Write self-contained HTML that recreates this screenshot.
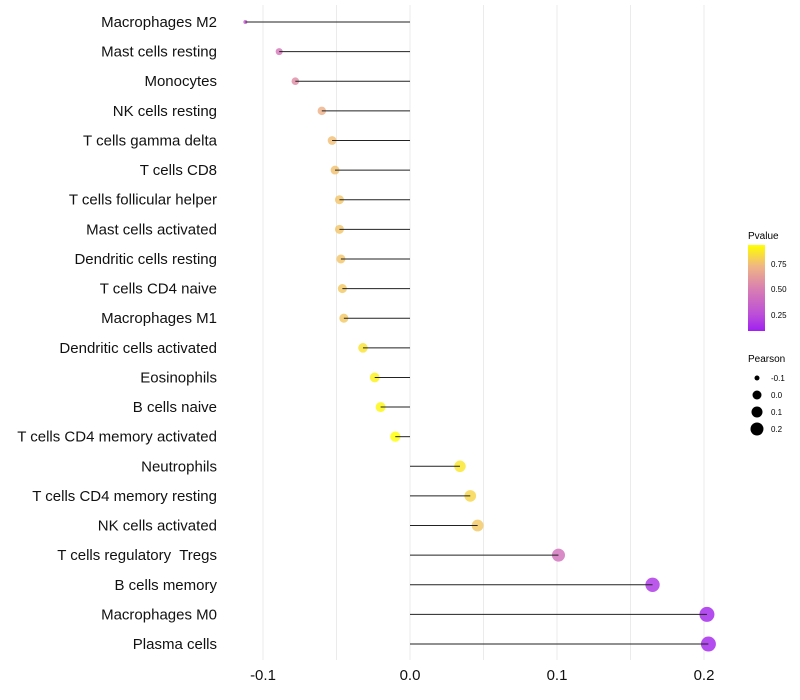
<!DOCTYPE html>
<html><head><meta charset="utf-8"><style>
body{margin:0;background:#fff}
svg{display:block;font-family:"Liberation Sans",sans-serif}
#ylabels text{white-space:pre}
</style></head><body>
<svg id="chart" width="800" height="700">
<defs><linearGradient id="pg" x1="0" y1="1" x2="0" y2="0">
<stop offset="0" stop-color="#a020f0"/><stop offset="0.2" stop-color="#bd50d8"/><stop offset="0.5" stop-color="#da80b0"/><stop offset="0.75" stop-color="#efb585"/><stop offset="1" stop-color="#ffff00"/>
</linearGradient></defs>
<g id="grid"></g><g id="marks"></g><g id="ylabels"></g><g id="xlabels"></g>
<g>
<text x="748" y="239" font-size="10">Pvalue</text>
<rect x="748" y="245" width="17" height="86" fill="url(#pg)"/>
<text x="771" y="267" font-size="8">0.75</text>
<text x="771" y="292" font-size="8">0.50</text>
<text x="771" y="318" font-size="8">0.25</text>
</g>
<g>
<text x="748" y="362" font-size="10">Pearson</text>
<circle cx="757" cy="378" r="2.5"/><text x="771" y="381" font-size="8">-0.1</text>
<circle cx="757" cy="395" r="4.5"/><text x="771" y="398" font-size="8">0.0</text>
<circle cx="757" cy="412" r="5.5"/><text x="771" y="415" font-size="8">0.1</text>
<circle cx="757" cy="429" r="6.5"/><text x="771" y="432" font-size="8">0.2</text>
</g>
</svg>
<script>
const categories=["Macrophages M2","Mast cells resting","Monocytes","NK cells resting","T cells gamma delta","T cells CD8","T cells follicular helper","Mast cells activated","Dendritic cells resting","T cells CD4 naive","Macrophages M1","Dendritic cells activated","Eosinophils","B cells naive","T cells CD4 memory activated","Neutrophils","T cells CD4 memory resting","NK cells activated","T cells regulatory  Tregs","B cells memory","Macrophages M0","Plasma cells"];
const pearson=[-0.112,-0.089,-0.078,-0.060,-0.053,-0.051,-0.048,-0.048,-0.047,-0.046,-0.045,-0.032,-0.024,-0.020,-0.010,0.034,0.041,0.046,0.101,0.165,0.202,0.203];
const pvalue=[0.30,0.45,0.55,0.70,0.74,0.75,0.76,0.76,0.76,0.77,0.77,0.85,0.89,0.91,0.95,0.86,0.81,0.77,0.42,0.14,0.09,0.09];
const xTicks=[-0.1,0,0.1,0.2];
const xTickLabels=["-0.1","0.0","0.1","0.2"];
const gridVals=[-0.1,-0.05,0,0.05,0.1,0.15,0.2];
const NS="http://www.w3.org/2000/svg";
const x=v=>410+v*1470;
const y=i=>22+i*29.62;
const stops=[[0,[160,32,240]],[0.2,[189,80,216]],[0.5,[218,128,176]],[0.75,[239,181,133]],[1,[255,255,0]]];
function col(p){const t=Math.max(0,Math.min(1,(p-0.07)/0.86));for(let k=1;k<stops.length;k++){if(t<=stops[k][0]){const a=stops[k-1],b=stops[k],f=(t-a[0])/(b[0]-a[0]);return "rgb("+a[1].map((c,j)=>Math.round(c+(b[1][j]-c)*f)).join(",")+")";}}return "rgb(255,255,0)";}
const vmin=Math.min(...pearson),vmax=Math.max(...pearson);
const rad=v=>2+5.5*Math.sqrt((v-vmin)/(vmax-vmin));
function mk(tag,attrs,parent){const e=document.createElementNS(NS,tag);for(const k in attrs)e.setAttribute(k,attrs[k]);parent.appendChild(e);return e;}
const grid=document.getElementById('grid'),marks=document.getElementById('marks'),yl=document.getElementById('ylabels'),xl=document.getElementById('xlabels');
gridVals.forEach(g=>{const l=mk('line',{x1:x(g),x2:x(g),y1:5,y2:660,stroke:'#ebebeb','stroke-width':1},grid);

});
categories.forEach((c,i)=>{
const p=mk('circle',{cx:x(pearson[i]),cy:y(i),r:rad(pearson[i]),fill:col(pvalue[i]),'fill-opacity':0.82},marks);


const l=mk('line',{x1:x(0),x2:x(pearson[i]),y1:y(i),y2:y(i),stroke:'#222','stroke-width':1},marks);


const t=mk('text',{x:217,y:y(i)+5,'text-anchor':'end','font-size':15,fill:'#111'},yl);
t.textContent=c;


});
xTicks.forEach((v,i)=>{const t=mk('text',{x:x(v),y:680,'text-anchor':'middle','font-size':15,fill:'#111'},xl);
t.textContent=xTickLabels[i];

});
</script>
</body></html>
